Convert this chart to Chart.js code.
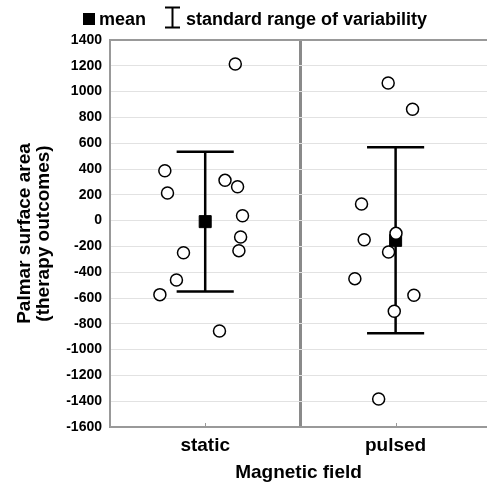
<!DOCTYPE html>
<html><head><meta charset="utf-8">
<script src="https://cdn.jsdelivr.net/npm/chart.js@4"></script>
<style>html,body{margin:0;padding:0;background:#fff;overflow:hidden}canvas{display:block}</style>
</head><body><canvas id="c" width="487" height="484" style="width:487px;height:484px"></canvas>
<script>
// ---- data ----
const categories = ['static', 'pulsed'];
const staticValues = [1214, 387, 214, 312, 263, 38, -127, -233, -249, -460, -574, -856];
const staticJitter = [0.158, -0.212, -0.198, 0.104, 0.170, 0.196, 0.186, 0.177, -0.114, -0.151, -0.238, 0.075];
const pulsedValues = [1067, 863, 129, -99, -148, -243, -450, -579, -703, -1383];
const pulsedJitter = [-0.039, 0.089, -0.179, 0.002, -0.165, -0.037, -0.214, 0.096, -0.007, -0.089];
const means = [-8, -153];
const halfRanges = [542, 721];
const yMin = -1600, yMax = 1400, yStep = 200;
const legendLabels = ['mean', 'standard range of variability'];
const yTitle = ['Palmar surface area', '(therapy outcomes)'];
const xTitle = 'Magnetic field';

const FONT = '"Liberation Sans", Arial, sans-serif';
const centers = categories.map((c, i) => i + 0.5);
const capHalf = 0.15;

const groups = [
  {values: staticValues, jitter: staticJitter},
  {values: pulsedValues, jitter: pulsedJitter}
];

const datasets = [];
groups.forEach((g, i) => {
  datasets.push({
    type: 'scatter', label: categories[i],
    data: g.values.map((v, k) => ({x: centers[i] + g.jitter[k], y: v})),
    pointRadius: 6, pointBackgroundColor: '#fff', pointBorderColor: '#000', pointBorderWidth: 1.5,
    order: 0
  });
});
means.forEach((m, i) => {
  datasets.push({
    type: 'scatter', label: 'mean ' + categories[i],
    data: [{x: centers[i], y: m}],
    pointStyle: 'rect', pointRadius: 8.5, pointBackgroundColor: '#000', pointBorderColor: '#000', pointBorderWidth: 1,
    order: 1
  });
  const top = m + halfRanges[i], bot = m - halfRanges[i];
  const segs = [
    [{x: centers[i], y: bot}, {x: centers[i], y: top}],
    [{x: centers[i] - capHalf, y: top}, {x: centers[i] + capHalf, y: top}],
    [{x: centers[i] - capHalf, y: bot}, {x: centers[i] + capHalf, y: bot}]
  ];
  segs.forEach(s => datasets.push({
    type: 'scatter', label: 'range', data: s, showLine: true,
    borderColor: '#000', borderWidth: 2.5, pointRadius: 0, order: 2
  }));
});

const legendPlugin = {
  id: 'customLegend',
  beforeDatasetsDraw(chart) {
    // small inward tick marks at the category centres on the bottom axis
    const ctx = chart.ctx, xs = chart.scales.x, b = chart.chartArea.bottom;
    ctx.save();
    ctx.strokeStyle = '#999'; ctx.lineWidth = 1;
    centers.forEach(c => {
      const px = Math.round(xs.getPixelForValue(c)) + 0.5;
      ctx.beginPath(); ctx.moveTo(px, b); ctx.lineTo(px, b - 4); ctx.stroke();
    });
    ctx.restore();
  },
  afterDraw(chart) {
    const ctx = chart.ctx;
    ctx.save();
    ctx.fillStyle = '#000';
    ctx.fillRect(83, 13, 12, 12);
    ctx.font = 'bold 18px ' + FONT;
    ctx.textBaseline = 'alphabetic';
    ctx.fillText(legendLabels[0], 99, 25);
    ctx.strokeStyle = '#000'; ctx.lineWidth = 2;
    ctx.beginPath();
    ctx.moveTo(172.5, 7); ctx.lineTo(172.5, 28);
    ctx.moveTo(165, 7.5); ctx.lineTo(180, 7.5);
    ctx.moveTo(165, 27.5); ctx.lineTo(180, 27.5);
    ctx.stroke();
    ctx.fillText(legendLabels[1], 186, 25);
    ctx.restore();
  }
};

new Chart(document.getElementById('c'), {
  type: 'scatter',
  data: {datasets},
  options: {
    responsive: false, animation: false, events: [],
    layout: {autoPadding: false, padding: {top: 40, left: 0, right: 0, bottom: 0}},
    plugins: {legend: {display: false}, tooltip: {enabled: false}},
    scales: {
      x: {
        type: 'linear', min: 0, max: 1.98,
        afterBuildTicks: s => { s.ticks = [{value: 0.5}, {value: 1}, {value: 1.5}]; },
        afterFit: s => { s.height = 57; s.paddingLeft = 0; s.paddingRight = 0; },
        ticks: {
          color: '#000', font: {family: FONT, size: 19, weight: 'bold'}, padding: 7, maxRotation: 0, autoSkip: false,
          callback: v => { const i = centers.indexOf(v); return i >= 0 ? categories[i] : ''; }
        },
        grid: {
          drawTicks: false,
          color: c => c.tick && c.tick.value === 1 ? '#8a8a8a' : 'rgba(0,0,0,0)',
          lineWidth: c => c.tick && c.tick.value === 1 ? 3 : 0
        },
        border: {color: '#999', width: 2},
        title: {display: true, text: xTitle, color: '#000', font: {family: FONT, size: 19, weight: 'bold'}, padding: {top: 0, bottom: 0}}
      },
      y: {
        min: yMin, max: yMax,
        afterFit: s => { s.width = 110; },
        ticks: {stepSize: yStep, color: '#000', font: {family: FONT, size: 14, weight: 'bold'}, padding: 8,
          callback: v => String(v)},
        grid: {
          drawTicks: false,
          color: c => c.tick && c.tick.value === yMax ? '#999' : '#e2e2e2',
          lineWidth: c => c.tick && c.tick.value === yMax ? 2 : 1
        },
        border: {color: '#999', width: 2},
        title: {display: true, text: yTitle, color: '#000', font: {family: FONT, size: 19, weight: 'bold', lineHeight: 1.0}, padding: {top: 15, bottom: 0}}
      }
    }
  },
  plugins: [legendPlugin]
});
</script>
</body></html>
